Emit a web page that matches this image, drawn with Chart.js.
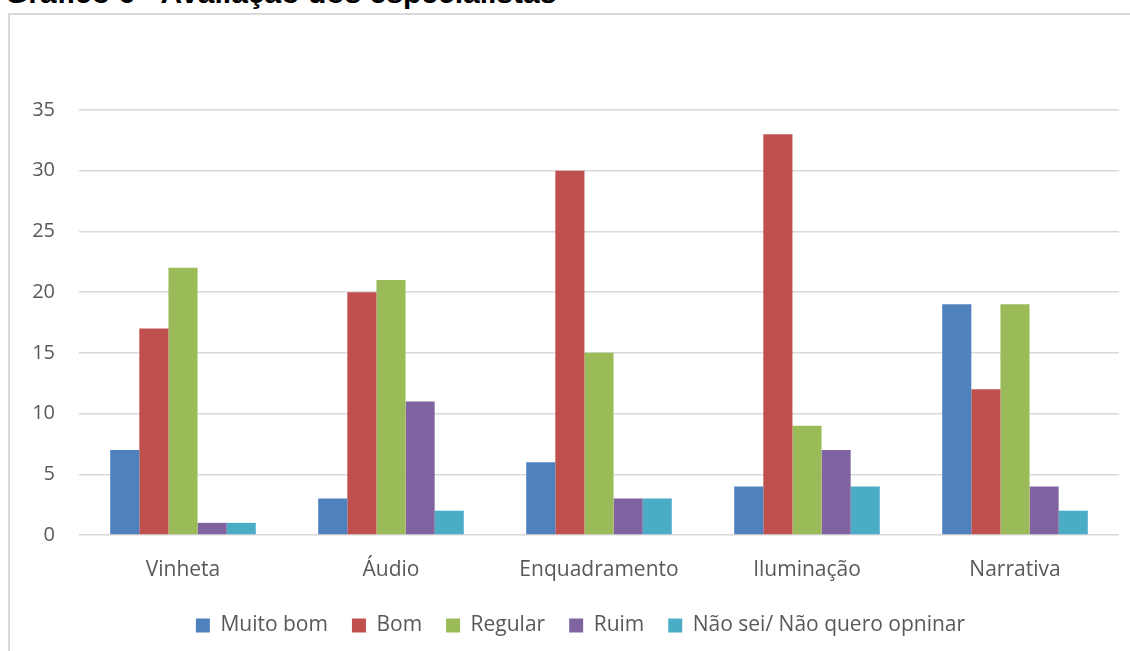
<!DOCTYPE html>
<html>
<head>
<meta charset="utf-8">
<script src="https://cdn.jsdelivr.net/npm/chart.js@4.4.1/dist/chart.umd.min.js"></script>
<style>
    body { margin: 0; background: #fff; overflow: hidden; }
    #title {
        position: absolute; left: 5px; top: -22px;
        font: bold 30px "Liberation Sans", Arial, sans-serif;
        line-height: 30px; color: #000; white-space: nowrap;
    }
    #frame {
        position: absolute; left: 8px; top: 13px; width: 1130px; height: 660px;
        border: 2px solid #d9d9d9; box-sizing: border-box;
    }
    #wrap { position: absolute; left: 0; top: 0; width: 1130px; height: 646px; }
</style>
</head>
<body>
<div id="title">Gráfico 6 - Avaliação dos especialistas</div>
<div id="frame"></div>
<div id="wrap"><canvas id="grafico"></canvas></div>
<script>
// DADOS
const categorias = ['Vinheta', 'Áudio', 'Enquadramento', 'Iluminação', 'Narrativa'];
const muitoBom = [7, 3, 6, 4, 19];
const bom = [17, 20, 30, 33, 12];
const regular = [22, 21, 15, 9, 19];
const ruim = [1, 11, 3, 7, 4];
const naoSei = [1, 2, 3, 4, 2];
const yTicks = [0, 5, 10, 15, 20, 25, 30, 35];

const fonte = "'Open Sans', 'Noto Sans', sans-serif";
const cinza = '#595959';

function serie(label, data, cor)
{
    return { label: label, data: data, backgroundColor: cor, borderWidth: 0,
             barPercentage: 1.0, categoryPercentage: 0.7 };
}

// legenda um pouco mais para a direita, como no original
const moveLegenda = {
    id: 'moveLegenda',
    afterLayout: function (chart)
    {
        chart.legend.left += 21;
        chart.legend.right += 21;
    }
};

let ctx = document.getElementById('grafico').getContext('2d');
new Chart(ctx,
{
    type: 'bar',
    data: {
        labels: categorias,
        datasets: [
            serie('Muito bom', muitoBom, '#4f81bd'),
            serie('Bom', bom, '#c0504d'),
            serie('Regular', regular, '#9bbb59'),
            serie('Ruim', ruim, '#8064a2'),
            serie('Não sei/ Não quero opninar', naoSei, '#4bacc6')
        ]
    },
    plugins: [moveLegenda],
    options: {
        responsive: true,
        maintainAspectRatio: false,
        animation: false,
        layout: { padding: { left: 0, right: 11, top: 110, bottom: 0 } },
        plugins: {
            tooltip: { enabled: false },
            legend: {
                position: 'bottom',
                labels: {
                    boxWidth: 14, boxHeight: 14, padding: 24,
                    color: cinza, font: { family: fonte, size: 21 }
                }
            }
        },
        scales: {
            x: {
                grid: { display: false, drawTicks: false },
                border: { display: false },
                ticks: { color: cinza, padding: 22, font: { family: fonte, size: 21 } },
                afterFit: function (scale) { scale.height = 56; }
            },
            y: {
                min: 0, max: 35,
                afterBuildTicks: function (scale) { scale.ticks = yTicks.map(v => ({ value: v })); },
                grid: { color: '#d9d9d9', lineWidth: 1.5, drawTicks: false },
                border: { display: false },
                ticks: { color: cinza, padding: 24, font: { family: fonte, size: 20 } },
                afterFit: function (scale) { scale.width = 79; }
            }
        }
    }
});
</script>
</body>
</html>
